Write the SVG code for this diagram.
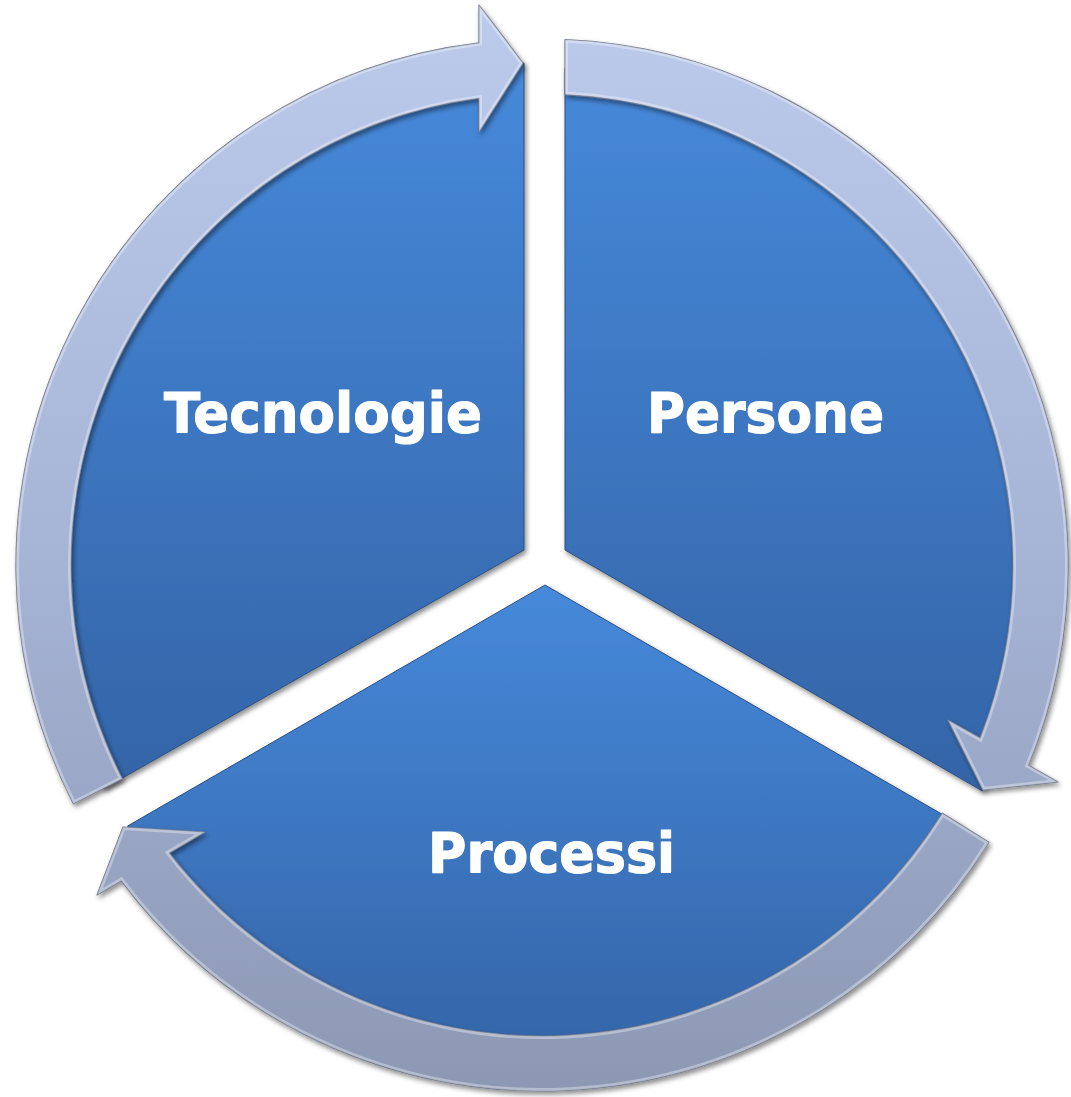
<svg xmlns="http://www.w3.org/2000/svg" width="1071" height="1097" viewBox="0 0 1071 1097">
  <defs>
    <linearGradient id="pieGrad" x1="0" y1="0" x2="0" y2="1">
      <stop offset="0" stop-color="#4689da"/>
      <stop offset="1" stop-color="#3464a7"/>
    </linearGradient>
    <linearGradient id="arrowGrad" gradientUnits="userSpaceOnUse" x1="0" y1="0" x2="0" y2="1097">
      <stop offset="0" stop-color="#bccbec"/>
      <stop offset="0.5" stop-color="#a6b4d6"/>
      <stop offset="1" stop-color="#8c98b3"/>
    </linearGradient>
    <filter id="shadow" x="-10%" y="-10%" width="120%" height="120%">
      <feDropShadow dx="2" dy="3" stdDeviation="2.5" flood-color="#000" flood-opacity="0.45"/>
    </filter>
    <path id="a1" d="M 73.3,803.8 A 526 526 0 0 1 479,42.8 L 479,5 L 523,63 L 479,132 L 479,98.2 A 471 471 0 0 0 122.3,778.8 Z"/>
    <path id="a2" d="M 565,39.5 A 526 526 0 0 1 1028.4,765.3 L 1058,782 L 983,790 L 948,720 L 980.1,738.1 A 471 471 0 0 0 565,94.6 Z"/>
    <path id="a3" d="M 989,842.2 A 526 526 0 0 1 121.3,880.8 L 97,895 L 123,827 L 205,832 L 169.2,852.9 A 471 471 0 0 0 942.3,813.2 Z"/>
    <clipPath id="c1"><use href="#a1"/></clipPath>
    <clipPath id="c2"><use href="#a2"/></clipPath>
    <clipPath id="c3"><use href="#a3"/></clipPath>
  </defs>
  <style>
    .pie { fill: url(#pieGrad); stroke: #2c4f80; stroke-width: 1; filter: url(#shadow); }
    .arrow { fill: url(#arrowGrad); stroke: #6d768c; stroke-width: 1.2; stroke-linejoin: round; filter: url(#shadow); }
    .hl { fill: none; stroke: #ffffff; stroke-opacity: 0.35; stroke-width: 6; }
    .label { font-family: "DejaVu Sans", "Liberation Sans", sans-serif; font-weight: bold; font-size: 55px; fill: #ffffff; stroke: #ffffff; stroke-width: 1.2; stroke-linejoin: round; }
  </style>
  <rect width="1071" height="1097" fill="#ffffff"/>

  <g id="node-tecnologie">
    <path class="pie" d="M 524,550 L 104,788.5 A 485 485 0 0 1 524,63 Z"/>
    <text class="label" x="164" y="432" textLength="318" lengthAdjust="spacingAndGlyphs">Tecnologie</text>
  </g>
  <g id="node-persone">
    <path class="pie" d="M 565,550 L 565,68 A 482 482 0 0 1 982.4,791 Z"/>
    <text class="label" x="647" y="432" textLength="237" lengthAdjust="spacingAndGlyphs">Persone</text>
  </g>
  <g id="node-processi">
    <path class="pie" d="M 545,585 L 962.4,826 A 482 482 0 0 1 127.6,826 Z"/>
    <text class="label" x="428" y="872" textLength="247" lengthAdjust="spacingAndGlyphs">Processi</text>
  </g>

  <g id="connectors">
    <use href="#a1" class="arrow"/>
    <use href="#a1" class="hl" clip-path="url(#c1)"/>
    <use href="#a2" class="arrow"/>
    <use href="#a2" class="hl" clip-path="url(#c2)"/>
    <use href="#a3" class="arrow"/>
    <use href="#a3" class="hl" clip-path="url(#c3)"/>
  </g>
</svg>
